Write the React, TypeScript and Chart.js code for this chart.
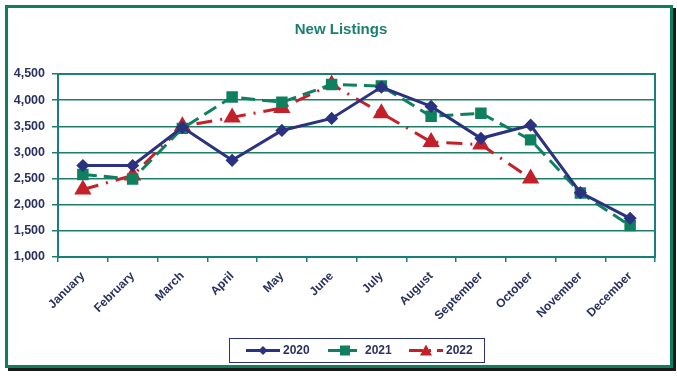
import React, { useEffect, useRef } from "react";
import { Chart, registerables } from "chart.js";

Chart.register(...registerables);

const months = ["January","February","March","April","May","June","July","August","September","October","November","December"];
const s2020 = [2750, 2750, 3480, 2850, 3420, 3650, 4250, 3880, 3270, 3520, 2230, 1740];
const s2021 = [2580, 2490, 3460, 4060, 3960, 4300, 4270, 3690, 3750, 3240, 2225, 1600];
const s2022 = [2290, 2560, 3500, 3670, 3850, 4300, 3750, 3200, 3150, 2500, null, null];
const seriesNames = ["2020", "2021", "2022"];
const yTicksMin = 1000;
const yTicksMax = 4500;
const yStep = 500;

const NAVY = "#2b3380";
const GREEN = "#0e8060";
const RED = "#c4202a";
const TEXT = "#2a3160";
const GRID = "#1f7f66";
const FRAME = "#17807a";
const FONT = "'Liberation Sans', Arial, sans-serif";

const decoPlugin = {
  id: "deco",
  afterDraw(chart: any) {
    const ctx = chart.ctx;
    const a = chart.chartArea;
    ctx.save();
    ctx.strokeStyle = FRAME;
    ctx.lineWidth = 2;
    ctx.strokeRect(a.left, a.top, a.right - a.left, a.bottom - a.top);
    ctx.fillStyle = "#1a7f70";
    ctx.font = `bold 15px ${FONT}`;
    ctx.textAlign = "center";
    ctx.textBaseline = "middle";
    ctx.fillText("New Listings", 341, 30);
    ctx.strokeStyle = NAVY;
    ctx.lineWidth = 1;
    ctx.strokeRect(229.5, 338.5, 255, 24);
    const y = 350.5;
    const items = [
      { x: 246, color: NAVY, dash: [], style: "diamond", name: seriesNames[0] },
      { x: 328, color: GREEN, dash: [12, 5], style: "square", name: seriesNames[1] },
      { x: 409, color: RED, dash: [14, 6, 2, 6], style: "tri", name: seriesNames[2] },
    ];
    for (const it of items) {
      ctx.strokeStyle = it.color;
      ctx.lineWidth = 3;
      ctx.setLineDash(it.dash);
      ctx.beginPath();
      ctx.moveTo(it.x, y);
      ctx.lineTo(it.x + 34, y);
      ctx.stroke();
      ctx.setLineDash([]);
      ctx.fillStyle = it.color;
      const cx = it.x + 17;
      ctx.beginPath();
      if (it.style === "diamond") {
        ctx.moveTo(cx, y - 4.5); ctx.lineTo(cx + 4.5, y); ctx.lineTo(cx, y + 4.5); ctx.lineTo(cx - 4.5, y);
      } else if (it.style === "square") {
        ctx.rect(cx - 5, y - 5, 10, 10);
      } else {
        ctx.moveTo(cx, y - 6); ctx.lineTo(cx + 6, y + 5); ctx.lineTo(cx - 6, y + 5);
      }
      ctx.closePath();
      ctx.fill();
      ctx.fillStyle = TEXT;
      ctx.font = `bold 12px ${FONT}`;
      ctx.textAlign = "left";
      ctx.fillText(it.name, it.x + 37, y + 0.5);
    }
    ctx.restore();
  },
};

export default function App() {
  const ref = useRef<HTMLCanvasElement>(null);
  useEffect(() => {
    if (!ref.current) return;
    const chart = new Chart(ref.current, {
      type: "line",
      data: {
        labels: months,
        datasets: [
          {
            label: seriesNames[0], data: s2020, borderColor: NAVY, backgroundColor: NAVY,
            borderWidth: 3, pointStyle: "rectRot", pointRadius: 4.5, tension: 0,
          },
          {
            label: seriesNames[1], data: s2021, borderColor: GREEN, backgroundColor: GREEN,
            borderWidth: 3, borderDash: [14, 7], pointStyle: "rect", pointRadius: 6, tension: 0,
          },
          {
            label: seriesNames[2], data: s2022 as any, borderColor: RED, backgroundColor: RED,
            borderWidth: 3, borderDash: [16, 8, 2, 8], pointStyle: "triangle", pointRadius: 7, tension: 0,
          },
        ],
      },
      options: {
        responsive: false,
        animation: false,
        layout: { padding: { left: 0, top: 74, right: 22, bottom: 0 } },
        plugins: { legend: { display: false }, title: { display: false }, tooltip: { enabled: false } },
        scales: {
          x: {
            offset: true,
            grid: { offset: true, drawOnChartArea: false, drawTicks: true, tickLength: 5, color: FRAME, lineWidth: 1.5 },
            border: { color: FRAME, width: 2 },
            ticks: {
              color: TEXT, font: { family: FONT, weight: "bold", size: 12 },
              maxRotation: 45, minRotation: 45, autoSkip: false, padding: 7,
            },
            afterFit(scale: any) { scale.height = 124; },
          },
          y: {
            min: yTicksMin, max: yTicksMax,
            grid: { color: GRID, lineWidth: 1.5, drawTicks: true, tickLength: 6 },
            border: { color: FRAME, width: 2 },
            ticks: {
              stepSize: yStep, color: TEXT, padding: 7,
              font: { family: FONT, weight: "bold", size: 12.5 },
              callback: (v: any) => Number(v).toLocaleString("en-US"),
            },
            afterFit(scale: any) { scale.width = 58; },
          },
        },
      },
      plugins: [decoPlugin],
    } as any);
    return () => chart.destroy();
  }, []);
  return (
    <div style={{ position: "absolute", left: 0, top: 0, width: 677, height: 381, background: "#fff" }}>
      <div style={{
        position: "absolute", left: 5, top: 5, width: 662, height: 357,
        border: "3px solid #0b7f5e", boxShadow: "3px 3px 0 #1a1a1a",
      }} />
      <canvas ref={ref} width={677} height={381} style={{ position: "absolute", left: 0, top: 0 }} />
    </div>
  );
}
